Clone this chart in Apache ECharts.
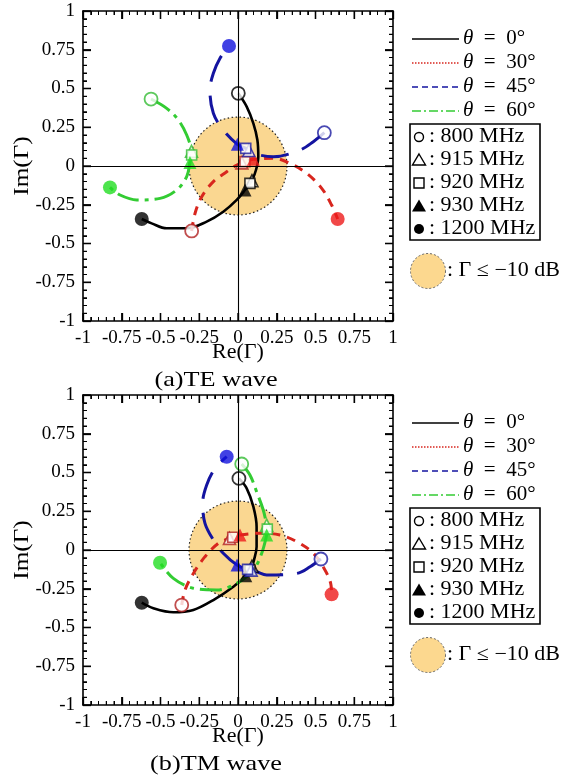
<!DOCTYPE html>
<html>
<head>
<meta charset="utf-8">
<script src="https://cdn.jsdelivr.net/npm/echarts@6/dist/echarts.min.js"></script>
<style>
  html, body { margin: 0; padding: 0; background: #fff; }
  #chart { width: 576px; height: 781px; }
</style>
</head>
<body>
<div id="chart"></div>
<script>
// Reflection coefficient loci, 800 MHz – 1200 MHz, for four incidence angles.
const thetaLabels = ['0°', '30°', '45°', '60°'];
const freqLabels = ['800 MHz', '915 MHz', '920 MHz', '930 MHz', '1200 MHz'];
const captions = ['(a)TE wave', '(b)TM wave'];
const regionRadius = 0.316;   // |Γ| at −10 dB

// Marked frequencies [800, 915, 920, 930, 1200 MHz] as [Re, Im]
const teMarks0  = [[0.002, 0.469], [0.090, -0.095], [0.077, -0.112], [0.045, -0.155], [-0.621, -0.342]];
const teMarks30 = [[-0.299, -0.419], [0.025, 0.020], [0.045, 0.028], [0.099, 0.043], [0.643, -0.342]];
const teMarks45 = [[0.557, 0.215], [0.070, 0.100], [0.050, 0.114], [-0.004, 0.140], [-0.058, 0.774]];
const teMarks60 = [[-0.561, 0.432], [-0.300, 0.095], [-0.299, 0.071], [-0.310, 0.022], [-0.826, -0.138]];

// Locus between 800 and 915 MHz
const teArcIn0  = [[0.056, 0.383], [0.099, 0.275], [0.125, 0.168], [0.131, 0.060], [0.116, -0.026]];
const teArcIn30 = [[-0.277, -0.305], [-0.234, -0.198], [-0.159, -0.101], [-0.073, -0.037], [-0.010, 0.005]];
const teArcIn45 = [[0.486, 0.157], [0.400, 0.103], [0.228, 0.060], [0.120, 0.075]];
const teArcIn60 = [[-0.460, 0.372], [-0.385, 0.297], [-0.331, 0.200]];
// Locus between 930 and 1200 MHz
const teArcOut0  = [[-0.008, -0.219], [-0.095, -0.295], [-0.202, -0.359], [-0.331, -0.402], [-0.460, -0.402], [-0.557, -0.370]];
const teArcOut30 = [[0.228, 0.050], [0.335, 0.017], [0.443, -0.047], [0.540, -0.144], [0.604, -0.252]];
const teArcOut45 = [[-0.095, 0.232], [-0.159, 0.340], [-0.181, 0.490], [-0.159, 0.598], [-0.116, 0.695]];
const teArcOut60 = [[-0.331, -0.069], [-0.396, -0.155], [-0.503, -0.209], [-0.654, -0.219], [-0.761, -0.187]];

const tmMarks0  = [[0.006, 0.462], [0.090, -0.105], [0.077, -0.129], [0.050, -0.166], [-0.621, -0.340]];
const tmMarks30 = [[-0.363, -0.355], [-0.055, 0.075], [-0.034, 0.082], [0.013, 0.097], [0.604, -0.286]];
const tmMarks45 = [[0.535, -0.058], [0.085, -0.130], [0.062, -0.125], [-0.006, -0.097], [-0.073, 0.602]];
const tmMarks60 = [[0.024, 0.555], [0.185, 0.160], [0.189, 0.135], [0.185, 0.097], [-0.503, -0.082]];

const tmArcIn0  = [[0.056, 0.398], [0.099, 0.280], [0.120, 0.150], [0.120, 0.021], [0.103, -0.065]];
const tmArcIn30 = [[-0.342, -0.258], [-0.288, -0.151], [-0.213, -0.043], [-0.127, 0.043]];
const tmArcIn45 = [[0.465, -0.108], [0.379, -0.151], [0.185, -0.161], [0.120, -0.140]];
const tmArcIn60 = [[0.077, 0.484], [0.120, 0.376], [0.163, 0.258]];
const tmArcOut0  = [[-0.030, -0.237], [-0.159, -0.323], [-0.288, -0.387], [-0.417, -0.402], [-0.546, -0.376]];
const tmArcOut30 = [[0.142, 0.108], [0.271, 0.097], [0.379, 0.054], [0.486, -0.021], [0.561, -0.129], [0.598, -0.215]];
const tmArcOut45 = [[-0.095, -0.021], [-0.159, 0.065], [-0.213, 0.172], [-0.228, 0.301], [-0.202, 0.419], [-0.148, 0.527]];
const tmArcOut60 = [[0.153, -0.021], [0.099, -0.129], [-0.008, -0.215], [-0.138, -0.258], [-0.288, -0.247], [-0.417, -0.183]];

const panels = [
  { marks: [teMarks0, teMarks30, teMarks45, teMarks60],
    arcIn: [teArcIn0, teArcIn30, teArcIn45, teArcIn60],
    arcOut: [teArcOut0, teArcOut30, teArcOut45, teArcOut60] },
  { marks: [tmMarks0, tmMarks30, tmMarks45, tmMarks60],
    arcIn: [tmArcIn0, tmArcIn30, tmArcIn45, tmArcIn60],
    arcOut: [tmArcOut0, tmArcOut30, tmArcOut45, tmArcOut60] }
];

// Axis range and tick steps (major 0.25, five minor divisions)
const AXIS_MIN = -1, AXIS_MAX = 1, MAJOR_STEP = 0.25, MINOR_SPLIT = 5;

// Per-angle styling
const lineColors = ['#000000', '#d8261e', '#1414a0', '#33cc33'];
const fillColors = ['#000000', '#ee1a1a', '#1212dd', '#22dd22'];
const edgeColors = ['#000000', '#b22222', '#1c1ca0', '#33bb33'];
const plotDash = ['solid', [9, 7], [28, 14], [22, 6, 4, 6]];
const legendDash = [null, [1.5, 1.5], [6, 4], [9, 3, 2, 3]];

const SERIF = 'Liberation Serif';
const gridTops = [11, 395];
const GRID_LEFT = 83, GRID_SIZE = 310;

function axis(gridIndex, position, showLabel) {
  return {
    type: 'value', gridIndex, position,
    min: AXIS_MIN, max: AXIS_MAX, interval: MAJOR_STEP,
    axisLine: { show: true, onZero: false, lineStyle: { color: '#000', width: 1.6 } },
    axisTick: { show: true, inside: true, length: 8, lineStyle: { color: '#000', width: 1.3 } },
    minorTick: { show: true, splitNumber: MINOR_SPLIT, length: 4, lineStyle: { color: '#000', width: 1 } },
    splitLine: { show: false },
    axisLabel: { show: showLabel, color: '#000', fontFamily: SERIF, fontSize: 19 }
  };
}

const grids = [], xAxes = [], yAxes = [], series = [];
gridTops.forEach((top, g) => {
  grids.push({ left: GRID_LEFT, top, width: GRID_SIZE, height: GRID_SIZE });
  xAxes.push(axis(g, 'bottom', true), axis(g, 'top', false));
  yAxes.push(axis(g, 'left', true), axis(g, 'right', false));
  const xi = g * 2, yi = g * 2;

  // −10 dB region
  series.push({
    type: 'custom', xAxisIndex: xi, yAxisIndex: yi, z: 1, silent: true,
    data: [[0, 0, regionRadius]],
    renderItem: (params, api) => {
      const c = api.coord([api.value(0), api.value(1)]);
      const s = api.size([api.value(2), api.value(2)]);
      return {
        type: 'circle',
        shape: { cx: c[0], cy: c[1], r: s[0] },
        style: { fill: '#fad791', stroke: '#222', lineWidth: 1.2, lineDash: [1.5, 2.5] }
      };
    }
  });

  // Re = 0 and Im = 0 lines
  series.push({
    type: 'line', xAxisIndex: xi, yAxisIndex: yi, z: 2, silent: true, data: [],
    markLine: {
      silent: true, symbol: 'none', label: { show: false },
      lineStyle: { color: '#000', width: 1.1, type: 'solid' },
      data: [{ xAxis: 0 }, { yAxis: 0 }]
    }
  });

  const p = panels[g];
  thetaLabels.forEach((t, k) => {
    const m = p.marks[k];
    const curve = [m[0], ...p.arcIn[k], m[1], m[2], m[3], ...p.arcOut[k], m[4]];
    series.push({
      type: 'line', xAxisIndex: xi, yAxisIndex: yi, z: 3,
      data: curve, smooth: 0.35, smoothMonotone: 'none', showSymbol: false, silent: true,
      lineStyle: { color: lineColors[k], width: k === 0 ? 2.6 : 3, type: plotDash[k] }
    });
  });
  thetaLabels.forEach((t, k) => {
    const m = p.marks[k];
    const styles = [
      { symbol: 'circle', symbolSize: 13, itemStyle: { color: '#fff', borderColor: edgeColors[k], borderWidth: 1.8 } },
      { symbol: 'triangle', symbolSize: 12, itemStyle: { color: '#fff', borderColor: edgeColors[k], borderWidth: 1.6 } },
      { symbol: 'rect', symbolSize: 10, itemStyle: { color: '#fff', borderColor: edgeColors[k], borderWidth: 1.6 } },
      { symbol: 'triangle', symbolSize: 13, itemStyle: { color: fillColors[k] } },
      { symbol: 'circle', symbolSize: 14, itemStyle: { color: fillColors[k] } }
    ];
    series.push({
      type: 'scatter', xAxisIndex: xi, yAxisIndex: yi, z: 4, silent: true,
      data: m.map((v, i) => Object.assign({ value: v }, styles[i]))
    });
  });
});

// Axis titles, captions and legends
const graphic = [];
const LEG_FONT = 20, LEG_SCALE = 1.1;
gridTops.forEach((top, g) => {
  const dy = top - gridTops[0];
  graphic.push({
    type: 'text', x: 238, y: 353 + dy, scaleX: 1.1,
    style: { text: 'Re(Γ)', fontFamily: SERIF, fontSize: 20, fill: '#000', align: 'center', verticalAlign: 'middle' }
  });
  graphic.push({
    type: 'text', x: 22, y: 166 + dy, rotation: Math.PI / 2, scaleX: 1.2,
    style: { text: 'Im(Γ)', fontFamily: SERIF, fontSize: 21, fill: '#000', align: 'center', verticalAlign: 'middle' }
  });
  graphic.push({
    type: 'text', x: 216, y: 380 + dy, scaleX: 1.25,
    style: { text: captions[g], fontFamily: SERIF, fontSize: 21, fill: '#000', align: 'center', verticalAlign: 'middle' }
  });

  // angle legend
  thetaLabels.forEach((t, k) => {
    const y = 39 + dy + k * 24;
    const line = { type: 'line', shape: { x1: 412, y1: y, x2: 459, y2: y },
      style: { stroke: lineColors[k], lineWidth: k === 0 ? 1.6 : 1.4 } };
    if (legendDash[k]) line.style.lineDash = legendDash[k];
    graphic.push(line);
    graphic.push({
      type: 'text', x: 463, y, scaleX: 1.05,
      style: {
        text: '{i|θ}\u2002=\u2002' + t, fontFamily: SERIF, fontSize: LEG_FONT, fill: '#000', verticalAlign: 'middle',
        rich: { i: { fontFamily: SERIF, fontStyle: 'italic', fontSize: LEG_FONT } }
      }
    });
  });

  // frequency legend box
  graphic.push({ type: 'rect', shape: { x: 410, y: 124 + dy, width: 130, height: 116 },
    style: { fill: 'none', stroke: '#000', lineWidth: 1.6 } });
  freqLabels.forEach((f, i) => {
    const y = 137 + dy + i * 23;
    const cx = 419;
    let sym;
    if (i === 0) sym = { type: 'circle', shape: { cx, cy: y, r: 4.5 }, style: { fill: '#fff', stroke: '#000', lineWidth: 1.4 } };
    else if (i === 1) sym = { type: 'polygon', shape: { points: [[cx, y - 6], [cx + 6.5, y + 5], [cx - 6.5, y + 5]] }, style: { fill: '#fff', stroke: '#000', lineWidth: 1.4 } };
    else if (i === 2) sym = { type: 'rect', shape: { x: cx - 5, y: y - 5, width: 10, height: 10 }, style: { fill: '#fff', stroke: '#000', lineWidth: 1.4 } };
    else if (i === 3) sym = { type: 'polygon', shape: { points: [[cx, y - 6.5], [cx + 7, y + 5.5], [cx - 7, y + 5.5]] }, style: { fill: '#000' } };
    else sym = { type: 'circle', shape: { cx, cy: y, r: 5 }, style: { fill: '#000' } };
    graphic.push(sym);
    graphic.push({ type: 'text', x: 429, y, scaleX: LEG_SCALE,
      style: { text: ': ' + f, fontFamily: SERIF, fontSize: LEG_FONT, fill: '#000', verticalAlign: 'middle' } });
  });

  // region legend
  graphic.push({ type: 'circle', shape: { cx: 428, cy: 271 + dy, r: 17.5 },
    style: { fill: '#fcd88f', stroke: '#666', lineWidth: 1, lineDash: [2, 2] } });
  graphic.push({ type: 'text', x: 447, y: 271 + dy, scaleX: LEG_SCALE,
    style: { text: ': Γ ≤ −10 dB', fontFamily: SERIF, fontSize: LEG_FONT, fill: '#000', verticalAlign: 'middle' } });
});

const chart = echarts.init(document.getElementById('chart'));
chart.setOption({
  animation: false,
  grid: grids,
  xAxis: xAxes,
  yAxis: yAxes,
  series,
  graphic
});

// Inward frame ticks on all four sides, positioned through each grid's axis scales
const tickGraphic = [];
const nMinor = Math.round((AXIS_MAX - AXIS_MIN) / MAJOR_STEP) * MINOR_SPLIT;
gridTops.forEach((top, g) => {
  const finder = { xAxisIndex: g * 2, yAxisIndex: g * 2 };
  for (let i = 0; i <= nMinor; i++) {
    const v = AXIS_MIN + i * MAJOR_STEP / MINOR_SPLIT;
    const major = i % MINOR_SPLIT === 0;
    const len = major ? 8 : 4;
    const lw = major ? 1.3 : 1;
    const b = chart.convertToPixel(finder, [v, AXIS_MIN]);
    const t = chart.convertToPixel(finder, [v, AXIS_MAX]);
    const l = chart.convertToPixel(finder, [AXIS_MIN, v]);
    const r = chart.convertToPixel(finder, [AXIS_MAX, v]);
    if (!b || !t || !l || !r) continue;
    const seg = (x1, y1, x2, y2) => ({
      type: 'line', silent: true, z: 100,
      shape: { x1, y1, x2, y2 },
      style: { stroke: '#000', lineWidth: lw }
    });
    tickGraphic.push(
      seg(b[0], b[1], b[0], b[1] - len),
      seg(t[0], t[1], t[0], t[1] + len),
      seg(l[0], l[1], l[0] + len, l[1]),
      seg(r[0], r[1], r[0] - len, r[1])
    );
  }
});
chart.setOption({ graphic: graphic.concat(tickGraphic) });
</script>
</body>
</html>
